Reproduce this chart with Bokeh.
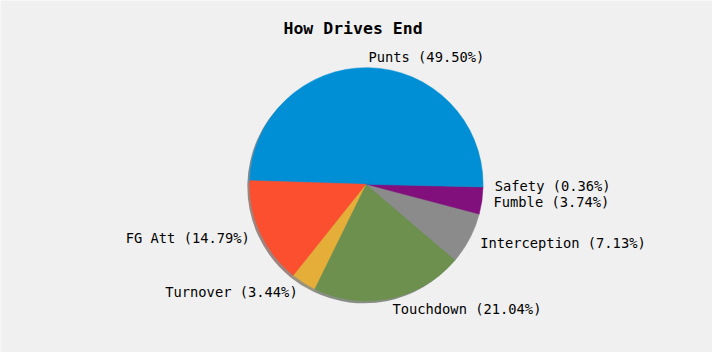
import math
from bokeh.plotting import figure
from bokeh.models import ColumnDataSource, Range1d
from bokeh.core.properties import value
from bokeh.embed import file_html
from bokeh.resources import INLINE

# ---- data ----
categories = ["Punts", "FG Att", "Turnover", "Touchdown", "Interception", "Fumble", "Safety"]
shares = [49.50, 14.79, 3.44, 21.04, 7.13, 3.74, 0.36]
title_text = "How Drives End"

# ---- style ----
palette = ["#008fd5", "#fc4f30", "#e5ae38", "#6d904f", "#8b8b8b", "#810f7c"]
bg = "#f0f0f0"
FONT = "DejaVu Sans Mono"

# layout in reference-pixel units (y up), figure maps the whole 720x360 canvas
REF_W, REF_H = 720.0, 360.0
W, H = 712, 352
R = 118.0
CX, CY = 370.0, REF_H - 188.0
scale = W / REF_W

total = sum(shares)
starts, ends, colors, shadow_colors = [], [], [], []
lx, ly, ltext, lalign = [], [], [], []
cum = 0.0
for i, (cat, s) in enumerate(zip(categories, shares)):
    a0 = 2 * math.pi * cum / total
    a1 = 2 * math.pi * (cum + s) / total
    starts.append(a0)
    ends.append(a1)
    c = palette[i % len(palette)]
    colors.append(c)
    r, g, b = int(c[1:3], 16), int(c[3:5], 16), int(c[5:7], 16)
    shadow_colors.append("#%02x%02x%02x" % (int(r * 0.3), int(g * 0.3), int(b * 0.3)))
    mid = (a0 + a1) / 2
    xt, yt = 1.1 * math.cos(mid), 1.1 * math.sin(mid)
    lx.append(CX + R * xt)
    ly.append(CY + R * yt)
    ltext.append(f"{cat} ({s / total * 100:.2f}%)")
    lalign.append("left" if xt > 0 else "right")
    cum += s

n = len(shares)
src = ColumnDataSource(dict(start=starts, end=ends, color=colors, shadow=shadow_colors,
                            x=[CX] * n, y=[CY] * n,
                            sx=[CX - 0.02 * R] * n, sy=[CY - 0.02 * R] * n))
lab = ColumnDataSource(dict(x=lx, y=ly, text=ltext, align=lalign))

p = figure(width=W, height=H, output_backend="svg", toolbar_location=None,
           x_range=Range1d(0, REF_W), y_range=Range1d(0, REF_H),
           min_border=0, background_fill_color=bg, border_fill_color=bg)
p.axis.visible = False
p.grid.visible = False
p.outline_line_color = None

# shadow
p.wedge(x="sx", y="sy", radius=R, start_angle="start", end_angle="end",
        fill_color="shadow", fill_alpha=0.5, line_color=None, source=src)
# pie
p.wedge(x="x", y="y", radius=R, start_angle="start", end_angle="end",
        fill_color="color", line_color="color", line_width=0.5, source=src)

p.text(x="x", y="y", text="text", text_align="align", text_baseline="middle",
       text_font=value(FONT), text_font_size="%.2fpx" % (13.9 * scale),
       text_color="#000000", source=lab)

p.text(x=[356.5], y=[REF_H - 28.5], text=[title_text], text_align="center",
       text_baseline="middle", text_font=value(FONT),
       text_font_size="%.2fpx" % (16.7 * scale),
       text_font_style="bold", text_color="#000000")

open("out.html", "w").write(file_html(p, INLINE))
